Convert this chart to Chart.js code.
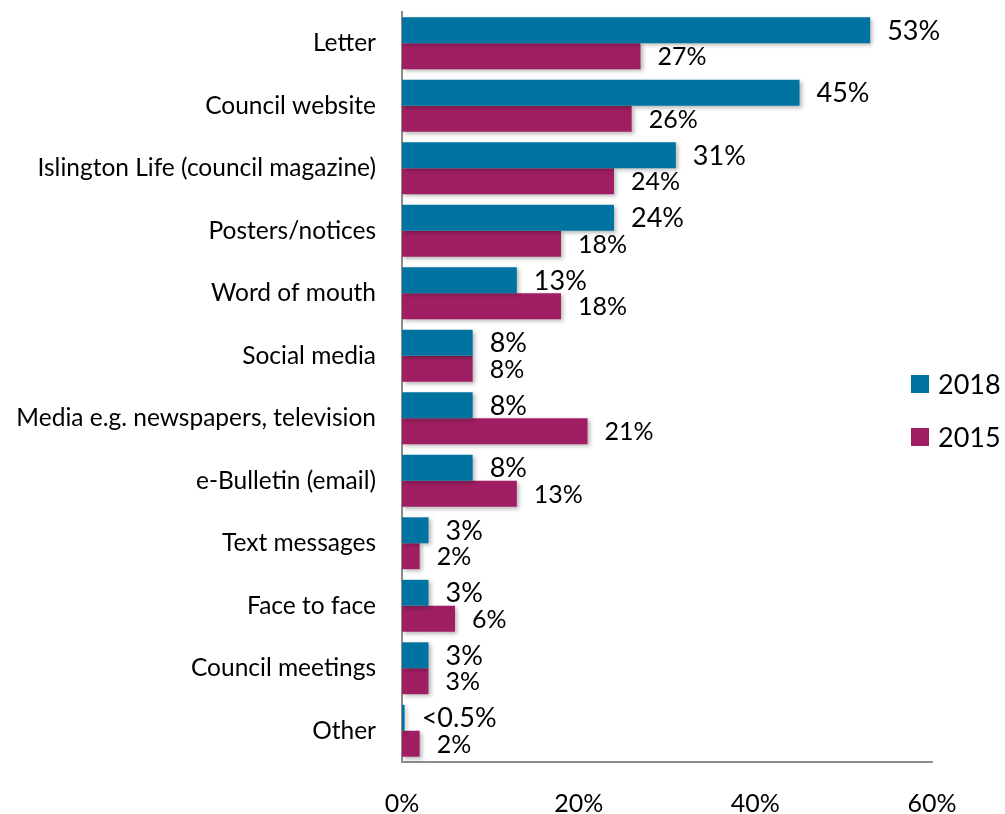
<!DOCTYPE html>
<html>
<head>
<meta charset="utf-8">
<script src="https://cdn.jsdelivr.net/npm/chart.js@4"></script>
<style>
  html, body { margin: 0; padding: 0; background: #fff; }
  #wrap { width: 1005px; height: 814px; position: relative; }
</style>
</head>
<body>
<div id="wrap"><canvas id="chart0" width="1005" height="814"></canvas></div>
<script>
// channels people heard about things from, 2018 vs 2015
const categories = [
  'Letter', 'Council website', 'Islington Life (council magazine)', 'Posters/notices',
  'Word of mouth', 'Social media', 'Media e.g. newspapers, television', 'e-Bulletin (email)',
  'Text messages', 'Face to face', 'Council meetings', 'Other'
];
const values2018 = [53, 45, 31, 24, 13, 8, 8, 8, 3, 3, 3, 0.3];
const values2015 = [27, 26, 24, 18, 18, 8, 21, 13, 2, 6, 3, 2];
const xTicks = [0, 20, 40, 60];

const BLUE = '#0073A1';
const PLUM = '#A01F62';
const FONT = 'Lato, "Open Sans", sans-serif';

function pctLabel(v) {
  return v < 0.5 ? '<0.5%' : v + '%';
}

// soft drop shadow under the bars
const barShadow = {
  id: 'barShadow',
  beforeDatasetsDraw(chart) {
    const ctx = chart.ctx;
    ctx.save();
    ctx.shadowColor = 'rgba(0,0,0,0.28)';
    ctx.shadowBlur = 4;
    ctx.shadowOffsetX = 2;
    ctx.shadowOffsetY = 2;
  },
  afterDatasetsDraw(chart) {
    chart.ctx.restore();
  }
};

// value labels to the right of each bar
const valueLabels = {
  id: 'valueLabels',
  afterDatasetsDraw(chart) {
    const ctx = chart.ctx;
    ctx.save();
    ctx.fillStyle = '#000';
    ctx.textAlign = 'left';
    ctx.textBaseline = 'middle';
    chart.data.datasets.forEach((ds, i) => {
      const meta = chart.getDatasetMeta(i);
      ctx.font = (i === 0 ? '27px ' : '25px ') + FONT;
      meta.data.forEach((bar, j) => {
        ctx.fillText(pctLabel(ds.data[j]), bar.x + 17, bar.y + 1);
      });
    });
    ctx.restore();
  }
};

// legend box on the right side
const sideLegend = {
  id: 'sideLegend',
  afterDraw(chart) {
    const ctx = chart.ctx;
    ctx.save();
    ctx.font = '27px ' + FONT;
    ctx.textBaseline = 'middle';
    ctx.fillStyle = '#000';
    const rows = [384, 437];
    chart.data.datasets.forEach((ds, i) => {
      ctx.fillStyle = ds.backgroundColor;
      ctx.fillRect(911, rows[i] - 9, 18, 18);
      ctx.fillStyle = '#000';
      ctx.fillText(ds.label, 938, rows[i] + 1);
    });
    ctx.restore();
  }
};

const ctx = document.getElementById('chart0').getContext('2d');
window.myChart = new Chart(ctx, {
  type: 'bar',
  data: {
    labels: categories,
    datasets: [
      { label: '2018', data: values2018, backgroundColor: BLUE },
      { label: '2015', data: values2015, backgroundColor: PLUM }
    ]
  },
  options: {
    indexAxis: 'y',
    responsive: false,
    animation: false,
    layout: { autoPadding: false, padding: { top: 12, right: 73, left: 0, bottom: 0 } },
    datasets: {
      bar: { categoryPercentage: 0.83, barPercentage: 1.0 }
    },
    plugins: {
      legend: { display: false },
      tooltip: { enabled: false }
    },
    scales: {
      x: {
        min: 0,
        max: 60,
        afterBuildTicks(scale) {
          scale.ticks = xTicks.map(v => ({ value: v }));
        },
        afterFit(scale) { scale.height = 52; },
        grid: { display: false, drawTicks: false },
        border: { display: true, color: '#8c8c8c', width: 2 },
        ticks: {
          padding: 27,
          color: '#000',
          font: { family: FONT, size: 25 },
          callback: v => v + '%'
        }
      },
      y: {
        afterFit(scale) {
          scale.width = 402;
          scale.paddingTop = 0;
          scale.paddingBottom = 0;
        },
        grid: { display: false, drawTicks: false },
        border: { display: true, color: '#8c8c8c', width: 2 },
        ticks: {
          padding: 26,
          color: '#000',
          font: { family: FONT, size: 24.5 }
        }
      }
    }
  },
  plugins: [barShadow, valueLabels, sideLegend]
});
</script>
</body>
</html>
